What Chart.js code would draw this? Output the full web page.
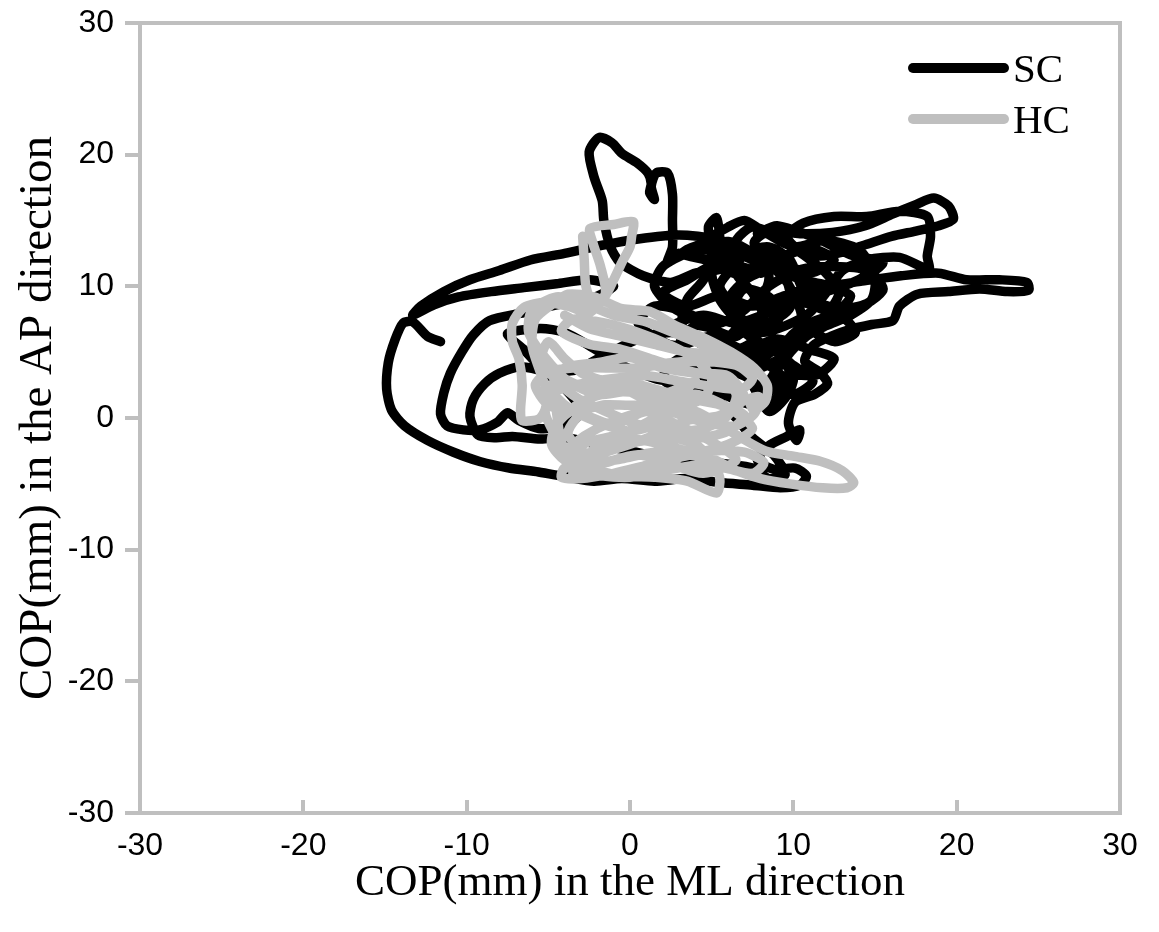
<!DOCTYPE html>
<html>
<script src="https://cdn.jsdelivr.net/npm/chart.js@4.4.0/dist/chart.umd.min.js"></script>
<style>
  body { margin: 0; background: #fff; }
</style>
<body>
<canvas id="copChart" width="1159" height="932"></canvas>
<script>

// axis range and ticks
const axisMin = -30;
const axisMax = 30;
const tickStep = 10;

const seriesNames = ["SC", "HC"];
const seriesColors = ["#000000", "#BFBFBF"];

// SC trajectory, [ML, AP] in mm
const scPoints = [
  [-11.6,5.8],[-12.4,6.2],[-13.3,7.3],[-13.9,7.2],[-14.4,5.9],[-14.8,4.2],[-14.9,2.2],[-14.6,0.6],[-13.8,-0.6],[-12.4,-1.7],
  [-10.8,-2.6],[-9.2,-3.3],[-7.4,-3.8],[-5.6,-4.1],[-3.8,-4.5],[-2.2,-4.8],[-0.5,-4.6],[1.5,-4.8],[3.5,-4.6],[5.5,-4.9],
  [7.5,-5.1],[9.2,-5.3],[10.4,-5.1],[10.8,-4.4],[10.1,-3.8],[8.8,-3.9],[7.8,-3.2],[8.5,-2.1],[9.6,-1.4],[10.4,-0.9],
  [10.2,-1.7],[9.7,-0.4],[10.1,1.2],[11.3,1.8],[12.1,2.6],[11.6,3.5],[10.7,4.3],[11.2,5.5],[12.3,6.2],[13.4,6.7],
  [14.8,7.1],[16.1,7.4],[16.5,8.5],[17.6,9.4],[19.5,9.6],[21.4,9.8],[23.1,9.6],[24.4,9.7],[24.3,10.3],[22.6,10.5],
  [20.6,10.5],[18.9,11],[16.6,10.8],[14.2,10.4],[12.2,10.1],[10.3,10.6],[8.7,11.3],[7.2,10.6],[6.1,9.1],[6.7,7.6],
  [8.4,7.2],[9.8,8.4],[9.6,10.4],[8.4,12],[7.6,13.3],[8.5,14.2],[10.4,14],[12.4,14.1],[14.4,14.6],[16.1,15.5],
  [17.5,16.2],[18.6,16.7],[19.5,16.1],[19.8,15.1],[18.9,14.6],[17.5,14.2],[16,13.8],[14.5,13.2],[13,12.6],[11.6,12.3],
  [10.3,12.8],[9.6,13.8],[10.6,14.8],[12.5,15.3],[14.5,15.3],[16.5,15.7],[18.2,15.3],[18.4,13.8],[18.2,12.3],[18.3,11.3],
  [16.5,12.2],[14.5,12],[13,11.2],[12,9.5],[11,8],[9.5,7],[8,6.5],[6.5,7.5],[5.5,9],[5,11],
  [5.5,13],[5.3,15.2],[4.8,14.5],[5,12.5],[4.5,10.5],[3.5,9],[3.2,7],[4.5,5.5],[6,5],[7.5,5.8],
  [8.2,7.5],[7.5,9.5],[6.5,11],[7,12.5],[8.5,13],[9.8,12],[10.5,10],[11.5,8.8],[13,8.3],[14.5,8.7],
  [15.5,9.8],[14.5,11.2],[12.5,11.5],[10.5,11.3],[8.5,10],[7,8.2],[5.5,7.2],[4,7.5],[2.5,8.5],[1.5,10],
  [2,11.5],[3.5,12.5],[5.5,12.8],[7.5,12],[8.5,10.8],[8,9],[6.5,8.5],[5.5,10],[6.5,11.5],[8,11],
  [3,12.5],[5,12],[7,12.8],[9,12.2],[11,12.9],[12.5,12],[11,11],[9,11.8],[7,10.8],[5,11.5],
  [3.5,10.5],[2,9.5],[3.5,8.5],[5.5,9.3],[7.5,8.5],[9.5,9.3],[11.5,10],[13.5,9.3],[12.5,8],[10.5,8.8],
  [8.5,8],[6.5,7.2],[4.5,7.8],[2.5,7],[1.2,6],[3,5.5],[5,6.2],[7,5.2],[9,6],[11,5.2],
  [12.5,4.5],[11.5,3.3],[9.5,3.2],[8.5,2],[7,3.2],[5,4],[3,4.5],[2,3],[3.5,2],[5.5,2.8],
  [7,4.3],[8.5,5.3],[10,4],[11.2,2.8],[10,1.8],[8.5,2.5],[9.5,4.5],[10.8,6.2],[12,7],[13.5,7.8],
  [14.8,9],[15,10.8],[14,12.8],[12,13.5],[10,13],[8,14.3],[7,15],[6,14.5],[4,13],[6,13.4],
  [7.8,12.3],[9.5,10.5],[10.5,7.8],[10,6],[8.5,5.5],[7,6.5],[6.2,8],[7,9.8],[8.5,9.2],[9.2,7.8],
  [8.5,6.8],[7,7.2],[6,6],[5.5,4.5],[6.5,3.5],[8,3.8],[9.5,4.8],[10.5,6.5],[11.8,7.5],[12.8,9.5],
  [12,11],[10.5,12.5],[9,13.8],[7.5,14.5],[6.5,13.5],[6,11.5],[4,11],[2.5,10.3],[0.8,10.8],[-0.6,11.8],
  [-1.2,13],[-1.6,15],[-1.7,16.5],[-2.2,18.3],[-2.5,20.2],[-1.9,21.3],[-1.1,20.9],[-0.5,20.1],[0.4,19.4],[1.1,18.6],
  [1.3,17.8],[1.2,17.1],[1.5,16.6],[1.3,17.6],[1.6,18.6],[2.3,18.6],[2.6,17],[2.6,15],[2.6,13],[2.3,11.8],
  [3.5,12.8],[5,13.6],[3,13.9],[0.5,13.6],[-1.8,13.1],[-4,12.5],[-6.1,12],[-8,11.2],[-9.8,10.5],[-11.4,9.6],
  [-12.8,8.5],[-13.3,7.8],[-12,8.6],[-10.5,9.2],[-8.5,9.6],[-6.5,9.9],[-4.5,10.2],[-2.5,10.5],[-1,10],[-2.5,9],
  [-4.5,8.6],[-6.5,8],[-8.6,7.4],[-9.6,6.3],[-10.3,5],[-11,3.4],[-11.4,1.9],[-11.6,0.3],[-11.2,-0.6],[-10.2,-0.9],
  [-9.2,-0.9],[-8.1,-0.3],[-7.5,0.4],[-6.8,-0.2],[-5.6,-0.8],[-4,-0.6],[-3,0.5],[-4.2,2.5],[-5.3,3.5],[-6.7,3.9],
  [-8,3.4],[-8.9,2.6],[-9.6,1.4],[-9.8,0.1],[-9.3,-1.3],[-8.2,-1.5],[-7.2,-1.4],[-5.5,-1.6],[-3.9,-1.5],[-2,-2],
  [0,-2.5],[2,-3],[4,-3.2],[6,-3.5],[7.5,-3.8],[8.5,-4.6],[9.5,-4.3],[8.8,-2.8],[7.5,-1.5],[6.5,0],
  [5.2,1.5],[3.5,2.5],[1.5,3],[-0.5,4],[-2.5,5.5],[-4,6.5],[-5.5,6.8],[-7.5,6.4],[-6.5,5.2],[-5.5,4],
  [-3.5,3.6],[-1.5,4.8],[0.5,6],[2.5,6.5],[4.5,6],[6.5,5],[8.5,4],[9.5,2.8],[9,1.5],[7.5,1],
  [5.5,2],[4,3.8],[3,5.5],[4,7],[5.5,6.5],[6.5,4.5],[7.5,2.5],[8.5,0.5],[9.5,1.5],[10,3],
  [9.2,5],[10.5,6.8],[12.5,5.8],[13.8,6.5],[12.8,7.8],[11,7.2],[9.5,5.8],[8,4.5],[6,3.8],[4,4.8],
  [2,5.8],[0.5,7.2],[1.5,8.5],[3.5,8],[5,6.8],[6.5,6.2],[8,7.8],[10,9],[12,9.6],[14,10.5],
  [15.5,11.8],[13.5,12.4],[11.5,13.6],[9,14.6],[7.8,14]
];

// HC trajectory, [ML, AP] in mm
const hcPoints = [
  [-2.9,13.8],[-2.8,12],[-2.7,10],[-2.2,8.5],[-1.5,9.5],[-1.8,11.5],[-2.3,13.4],[-2.45,14.4],[-1,14.7],[0.2,14.9],
  [0.1,13.8],[0,13],[-0.5,11.8],[-1,10.5],[-1.5,9.3],[-2.5,8],[-3.8,8.5],[-5.2,8.8],[-6.5,8.4],[-7.2,7.2],
  [-7.2,5.8],[-6.8,4.5],[-6.6,2.5],[-6.7,0.6],[-6.6,-0.2],[-5.5,0],[-5,1.5],[-5.5,3.5],[-6,5.5],[-5.8,7.5],
  [-4.8,8.6],[-3.8,9.4],[-2.2,9.2],[-0.5,8.3],[1.2,8.1],[2.8,7],[4.5,6.1],[6.2,5],[7.6,3.8],[8.4,2.5],
  [8.3,1.3],[7.6,0.6],[7.3,1.4],[7.9,1.6],[7.6,0.3],[6.4,-0.6],[4.5,-0.3],[2.5,0.5],[0.8,1.5],[-1,2.6],
  [-2.8,3.3],[-4,4.5],[-5,5.8],[-5.4,4.5],[-4.5,2.8],[-3.2,1.5],[-1.5,0.5],[0.5,-0.5],[2.5,-1],[4.5,-0.8],
  [6,0.2],[6.5,1.8],[5.5,3],[3.5,3.6],[1.5,4.4],[-0.5,5.2],[-2.5,5.6],[-4.2,6.6],[-3.5,7.5],[-1.5,7.2],
  [0.5,6.5],[2.5,5.5],[4,4.5],[5,3],[4.5,1.5],[3,1],[1,1.8],[-1,2],[-3,1.2],[-4.5,-0.5],
  [-4.8,-2],[-4,-3.2],[-2.5,-3.8],[-0.5,-4.4],[1.5,-4.5],[3.5,-4.8],[5.3,-5.7],[5.5,-4.6],[5,-3.2],[4,-2],
  [2.5,-1.5],[0.5,-1.8],[-1.5,-2.4],[-3.2,-2.8],[-4.2,-3],[-3.5,-2],[-2,-0.8],[0,0.2],[2,0.8],[4,0.5],
  [5.5,-0.5],[6.8,-1.5],[8.3,-2.5],[10,-2.9],[11.7,-3.3],[13,-4],[13.7,-4.9],[13.3,-5.3],[11.8,-5.3],[9.8,-5],
  [8,-4.6],[6.5,-4],[5.2,-3.2],[3.5,-2.8],[1.5,-2.6],[-0.5,-3.1],[-2.5,-3.5],[-4,-3.8],[-4.2,-4.5],[-3,-4.6],
  [-1,-4.2],[1,-3.6],[3,-3],[5,-2.5],[7,-2.6],[8.2,-3.4],[7.5,-4.2],[5.8,-3.8],[4,-3.6],[2,-4],
  [0,-4.5],[-2,-4.3],[-3.5,-3.2],[-4.5,-1.5],[-5.2,0.5],[-4.6,2],[-3,2.6],[-1,3],[1,3.2],[3,2.8],
  [5,2.4],[6.8,2.2],[7.5,3],[6.5,4],[4.5,4.3],[2.5,4.2],[0.5,3.8],[-1.5,3.8],[-3.5,3.8],[-5,3.5],
  [-5.8,2.5],[-5,1],[-3.5,0.5],[-1.5,1],[0.5,1],[2.5,2],[4,2.8],[3,1.8],[1.5,0],[-0.5,-1.2],
  [-2.5,-1.8],[-4,-2.5],[-4.5,3],[-2.5,2.2],[-0.5,2.8],[1.5,2.2],[3.5,1.5],[5.5,1],[7,0.2],[6,-1],
  [4,-1.5],[2,-0.5],[0,-1],[-2,-0.3],[-3.8,0.8],[-4.8,2.2],[-4,3.8],[-2,4.2],[0,4.6],[2,3.8],
  [4,3.4],[6,3.2],[7,1.5],[5.5,0.2],[3.5,-0.2],[1.5,-1.3],[-0.5,-2.2],[-2.5,-2.8],[-3.8,-1.2],[-3,0.2],
  [-1,-0.5],[1,0.5],[3,-0.6],[5,-1.8],[6.5,-3.2],[4.5,-4.2],[2.5,-3.5],[0.5,-2.8],[-1.5,-3.4],[-3.5,-4.2],
  [-2,-2.2],[0,-1.6],[2,-2],[4,-2.6],[6,-2],[7.5,-0.8],[6,0.8],[4,1.8],[2,1.2],[0,2],
  [-2,1.8],[-3.8,2.8],[-5.2,4.6],[-6.2,6.5],[-6,8.2],[-4.5,9.2],[-3,8.8],[-1,7.8],[1,7.3],[3,6.3],
  [5,5.3],[6.8,4.2],[5.5,4.8],[3.5,5],[1.5,5.6],[-0.5,6.2],[-2.5,6.8],[-4,7.8]
];

function toXY(arr) {
  return arr.map((p) => ({ x: p[0], y: p[1] }));
}

const axisGray = "#BFBFBF";
const serif = "'Liberation Serif', 'Times New Roman', serif";
const sans = "'Liberation Sans', Arial, sans-serif";

// top/right frame plus the legend in the upper right
const framePlugin = {
  id: 'frame',
  afterDraw(chart) {
    const ctx = chart.ctx;
    const a = chart.chartArea;
    ctx.save();
    ctx.strokeStyle = axisGray;
    ctx.lineWidth = 4;
    ctx.beginPath();
    ctx.moveTo(a.left, a.top);
    ctx.lineTo(a.right, a.top);
    ctx.lineTo(a.right, a.bottom);
    ctx.stroke();

    chart.data.datasets.slice().sort((d1, d2) => d1.legendIndex - d2.legendIndex).forEach((ds, i) => {
      const y = a.top + 45 + i * 51;
      ctx.strokeStyle = ds.borderColor;
      ctx.lineWidth = 10;
      ctx.lineCap = 'round';
      ctx.beginPath();
      ctx.moveTo(a.right - 207, y);
      ctx.lineTo(a.right - 116, y);
      ctx.stroke();
      ctx.fillStyle = '#000';
      ctx.font = "41px " + serif;
      ctx.textBaseline = 'alphabetic';
      ctx.fillText(ds.label, a.right - 107, y + 14);
    });
    ctx.restore();
  }
};

new Chart("copChart", {
  type: 'scatter',
  data: {
    datasets: [
      {
        label: seriesNames[1],
        legendIndex: 1,
        data: toXY(hcPoints),
        borderColor: seriesColors[1],
        order: 0,
      },
      {
        label: seriesNames[0],
        legendIndex: 0,
        data: toXY(scPoints),
        borderColor: seriesColors[0],
        order: 1,
      },
    ].map((d) => Object.assign(d, {
      showLine: true,
      pointRadius: 0,
      borderWidth: 9.5,
      tension: 0.25,
      borderCapStyle: 'round',
      borderJoinStyle: 'round',
    })),
  },
  options: {
    responsive: false,
    animation: false,
    devicePixelRatio: 1,
    layout: { padding: { top: 23, right: 39, left: 0, bottom: 0 } },
    plugins: {
      legend: { display: false },
      tooltip: { enabled: false },
    },
    scales: {
      x: {
        type: 'linear',
        min: axisMin,
        max: axisMax,
        afterFit: (s) => { s.height = 119; s.paddingLeft = 0; s.paddingRight = 0; },
        ticks: {
          stepSize: tickStep,
          color: '#000',
          font: { family: sans, size: 32 },
          padding: 27,
        },
        grid: {
          drawOnChartArea: false,
          color: axisGray,
          lineWidth: 4,
          tickLength: -13,
        },
        border: { color: axisGray, width: 4 },
        title: {
          display: true,
          text: 'COP(mm) in the ML direction',
          color: '#000',
          font: { family: serif, size: 45 },
          padding: { top: 0, bottom: 22 },
        },
      },
      y: {
        type: 'linear',
        min: axisMin,
        max: axisMax,
        afterFit: (s) => { s.width = 140; s.paddingTop = 0; s.paddingBottom = 0; },
        ticks: {
          stepSize: tickStep,
          color: '#000',
          font: { family: sans, size: 32 },
          padding: 11,
        },
        grid: {
          drawOnChartArea: false,
          color: axisGray,
          lineWidth: 4,
          tickLength: 15,
        },
        border: { color: axisGray, width: 4 },
        title: {
          display: true,
          text: 'COP(mm) in the AP direction',
          color: '#000',
          font: { family: serif, size: 47 },
          padding: { top: 10, bottom: 0 },
        },
      },
    },
  },
  plugins: [framePlugin],
});
</script>
</body>
</html>
